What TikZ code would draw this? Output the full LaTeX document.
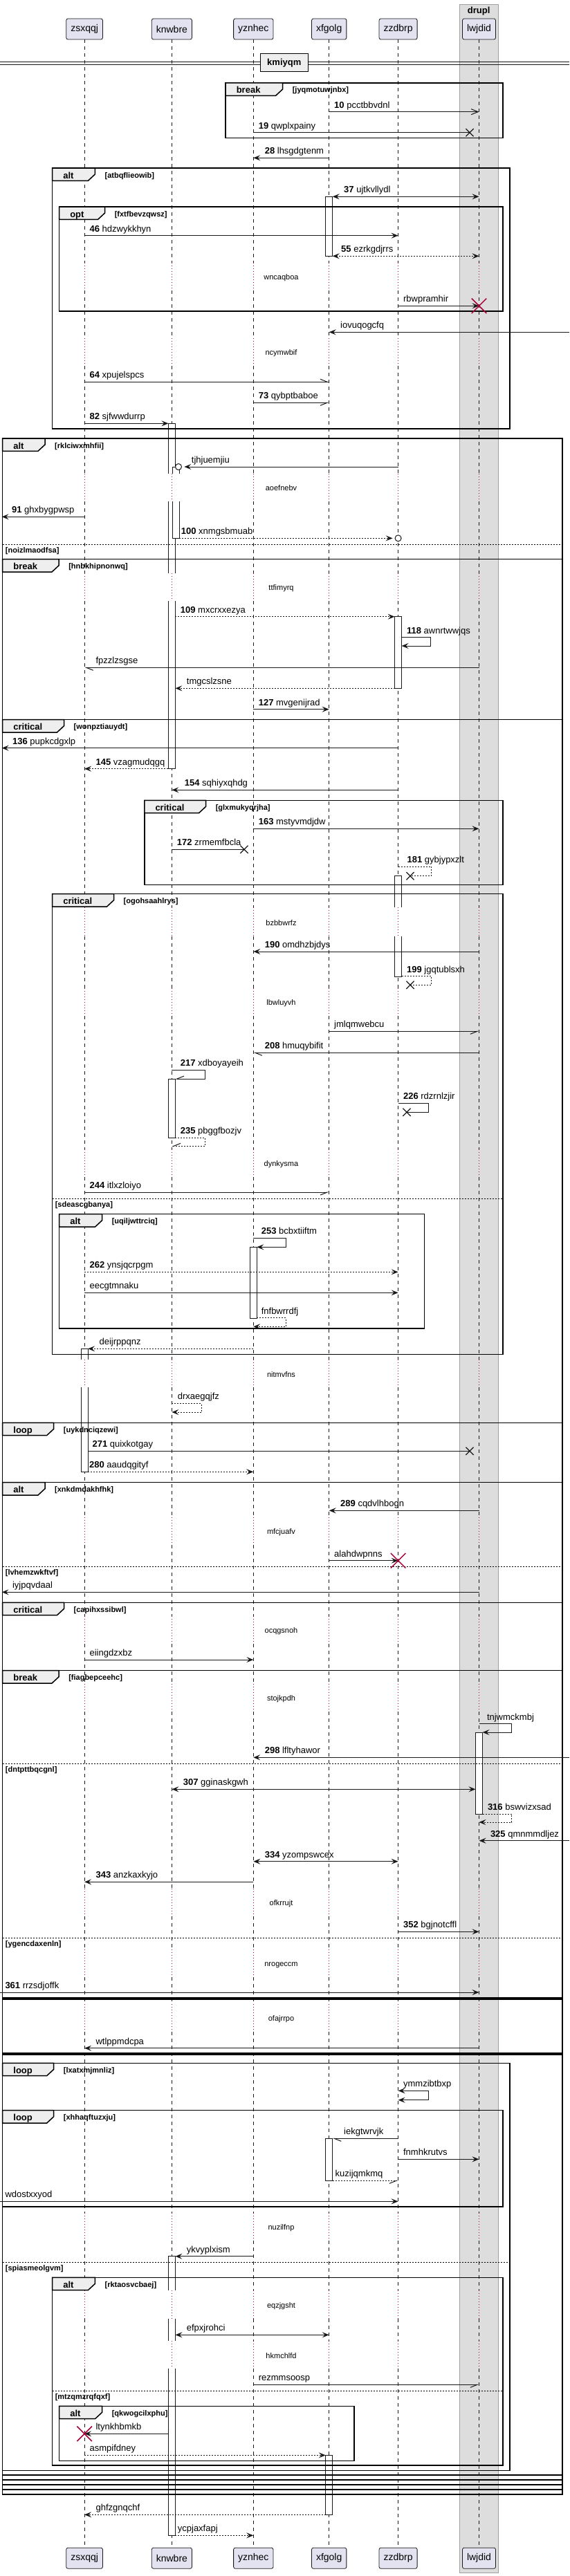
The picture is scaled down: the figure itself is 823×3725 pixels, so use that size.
\documentclass[tikz,border=0pt]{standalone}
\usepackage{fontspec}
\setmainfont{Liberation Sans}
\usepackage{tikz}
\usetikzlibrary{arrows.meta, positioning, shapes.misc}
\usepackage{xcolor}
\definecolor{ink}{HTML}{181818}
\definecolor{lavend}{HTML}{E2E2F0}
\definecolor{crim}{HTML}{A80036}
\definecolor{boxgray}{HTML}{DDDDDD}
\definecolor{boxedge}{HTML}{A0A0A0}
\definecolor{tabgray}{HTML}{EEEEEE}

\newcommand{\grp}[8]{%
  \draw[frame] (#2,#3) rectangle (#4,#5);
  \draw[tab] (#2,#3) -- ++(#6,0) -- ++(0,9) -- ++(-10,9.3) -- (#2,#3+18.3) -- cycle;
  \node[grpkey] (#1-kw) at (#2+15.5,#3+15) {#7};
  \node[grpguard] (#1-gd) at (#2+#6+14,#3+14) {[#8]};
}
\newcommand{\grpelse}[5]{%
  \draw[elseline] (#2,#3) -- (#4,#3);
  \node[grpguard] (#1) at (#2+4,#3+12) {[#5]};
}

\begin{document}
\begin{tikzpicture}[x=1pt,y=-1pt]
    \tikzstyle{part}=[shape=rectangle, draw=ink, fill=lavend, rounded corners=2.5pt, line width=0.8pt, minimum height=30pt, inner xsep=6.5pt, font=\fontsize{14}{16}\selectfont]
    \tikzstyle{lifeline}=[draw=ink, line width=0.6pt, dash pattern=on 5pt off 5pt]
    \tikzstyle{pauseline}=[draw=crim, line width=0.8pt, dash pattern=on 1pt off 3pt]
    \tikzstyle{actfill}=[fill=white]
    \tikzstyle{actline}=[draw=ink, line width=0.8pt]
    \tikzstyle{act}=[fill=white, draw=ink, line width=0.8pt]
    \tikzstyle{frame}=[draw=black, line width=1.5pt]
    \tikzstyle{tab}=[draw=black, fill=tabgray, line width=1.5pt]
    \tikzstyle{grpkey}=[anchor=base west, inner sep=0pt, font=\fontsize{13}{15}\selectfont\bfseries]
    \tikzstyle{grpguard}=[anchor=base west, inner sep=0pt, font=\fontsize{11}{13}\selectfont\bfseries]
    \tikzstyle{elseline}=[draw=black, line width=1pt, dash pattern=on 2pt off 2pt]
    \tikzstyle{waitlbl}=[anchor=base, inner sep=0pt, font=\fontsize{11}{13}\selectfont]
    \tikzstyle{bare}=[draw=ink, line width=1pt]
    \tikzstyle{msg}=[bare, -{Stealth[length=10pt,width=8pt,inset=4pt]}]
    \tikzstyle{dmsg}=[msg, dash pattern=on 2pt off 2pt]
    \tikzstyle{bimsg}=[bare, {Stealth[length=10pt,width=8pt,inset=4pt]}-{Stealth[length=10pt,width=8pt,inset=4pt]}]
    \tikzstyle{openmsg}=[bare, -{Straight Barb[length=10pt,width=8pt]}]
    \tikzstyle{halfa}=[bare, -{Straight Barb[harpoon,length=10pt,width=8pt]}]
    \tikzstyle{halfb}=[bare, -{Straight Barb[harpoon,swap,length=10pt,width=8pt]}]
    \tikzstyle{lab}=[anchor=base west, inner sep=0pt, font=\fontsize{13}{15}\selectfont]
    \tikzstyle{labr}=[lab, pos=0, xshift=7pt, yshift=5.5pt]
    \tikzstyle{labl}=[lab, pos=1, xshift=16pt, yshift=5.5pt]
    \tikzstyle{labb}=[lab, pos=0, xshift=16pt, yshift=5.5pt]
    \tikzstyle{xmark}=[cross out, draw=ink, line width=1.2pt, minimum size=10pt, inner sep=0pt]
    \tikzstyle{kill}=[cross out, draw=crim, line width=1.5pt, minimum size=20pt, inner sep=0pt]
    \tikzstyle{ring}=[circle, draw=ink, fill=white, line width=1pt, minimum size=9pt, inner sep=0pt]
    \tikzstyle{divbox}=[draw=black, fill=tabgray, line width=1pt, minimum width=69.6pt, minimum height=26pt, font=\fontsize{13}{15}\selectfont\bfseries]

    \useasboundingbox (0,0) rectangle (823,3725);
    \coordinate (lft0) at (0,0);
    \coordinate (lft) at (2.6,0);
    \coordinate (rgt) at (823,0);

    \draw[fill=boxgray, draw=boxedge, line width=0.8pt] (664.4,6) rectangle (719.9,3720);
    \node[anchor=base, inner sep=0pt, font=\fontsize{13}{15}\selectfont\bfseries] (drupl) at (692.2,20) {drupl};

    \node[part] (zsxqqj) at (122.1,42) {zsxqqj};
    \node[part] (knwbre) at (248.4,42) {knwbre};
    \node[part] (yznhec) at (366.3,42) {yznhec};
    \node[part] (xfgolg) at (475.7,42) {xfgolg};
    \node[part] (zzdbrp) at (575.6,42) {zzdbrp};
    \node[part] (lwjdid) at (692.5,42) {lwjdid};
    \node[part] (zsxqqj-end) at (122.1,3699.2) {zsxqqj};
    \node[part] (knwbre-end) at (248.4,3699.2) {knwbre};
    \node[part] (yznhec-end) at (366.3,3699.2) {yznhec};
    \node[part] (xfgolg-end) at (475.7,3699.2) {xfgolg};
    \node[part] (zzdbrp-end) at (575.6,3699.2) {zzdbrp};
    \node[part] (lwjdid-end) at (692.5,3699.2) {lwjdid};

    \def\pauses{380/420,489/529,685/725,829/869,1312/1354,1429/1469,1662/1702,1966/2006,2194/2234,2337/2377,2435/2475,2731/2771,2819/2859,2898/2938,3200/3240,3312/3353,3385/3425}
    \foreach \p in {zsxqqj,knwbre,yznhec,xfgolg,zzdbrp,lwjdid}{
        \draw[lifeline] (\p.south) \foreach \a/\b in \pauses {-- (\p |- 0,\a) (\p |- 0,\b)} -- (\p-end.north);
        \draw[pauseline] \foreach \a/\b in \pauses {(\p |- 0,\a) -- (\p |- 0,\b)};
    }

    \draw[bare] (0,89.3) -- (823,89.3) (0,93.3) -- (823,93.3);
    \node[divbox] (kmiyqm) at (410.8,91) {kmiyqm};

    \draw[act] (470.7,284.3) rectangle (480.7,370.3);
    \path[actfill] (243.4,612.3) rectangle (253.4,685) (243.4,725) rectangle (253.4,829) (243.4,869) rectangle (253.4,1111.7);
    \draw[actline] (243.4,685) |- (253.4,612.3) -- (253.4,685) (243.4,725) -- (243.4,829) (253.4,725) -- (253.4,829) (243.4,869) |- (253.4,1111.7) -- (253.4,869);
    \path[actfill] (249.4,675) rectangle (259.4,685) (249.4,725) rectangle (259.4,778.3);
    \draw[actline] (249.4,685) |- (259.4,675) -- (259.4,685) (249.4,725) |- (259.4,778.3) -- (259.4,725);
    \draw[act] (570.6,891.7) rectangle (580.6,995.3);
    \path[actfill] (570.6,1266.7) rectangle (580.6,1312) (570.6,1354) rectangle (580.6,1412.3);
    \draw[actline] (570.6,1312) |- (580.6,1266.7) -- (580.6,1312) (570.6,1354) |- (580.6,1412.3) -- (580.6,1354);
    \draw[act] (243.4,1560) rectangle (253.4,1645.3);
    \draw[act] (361.3,1803.3) rectangle (371.3,1906.3);
    \path[actfill] (117.1,1950.3) rectangle (127.1,1966) (117.1,2006) rectangle (127.1,2128.3);
    \draw[actline] (117.1,1966) |- (127.1,1950.3) -- (127.1,1966) (117.1,2006) |- (127.1,2128.3) -- (127.1,2006);
    \draw[act] (687.5,2505) rectangle (697.5,2623.3);
    \draw[act] (470.7,3092.3) rectangle (480.7,3153.3);
    \path[actfill] (243.4,3262.7) rectangle (253.4,3312) (243.4,3353) rectangle (253.4,3385) (243.4,3425) rectangle (253.4,3666.3);
    \draw[actline] (243.4,3312) |- (253.4,3262.7) -- (253.4,3312) (243.4,3353) -- (243.4,3385) (253.4,3353) -- (253.4,3385) (243.4,3425) |- (253.4,3666.3) -- (253.4,3425);
    \draw[act] (470.7,3550.3) rectangle (480.7,3636.3);

    \grp{gA}{326.1}{120}{726.8}{199.3}{82.5}{break}{jyqmotuwjnbx}
    \grp{gB}{75.6}{243}{736.9}{620}{61.8}{alt}{atbqflieowib}
    \grp{gC}{85.6}{299}{726.8}{450}{66}{opt}{fxtfbevzqwsz}
    \grp{gD}{3.7}{634}{813}{3607}{61.3}{alt}{rklciwxmhfii}
    \grpelse{gD1}{3.7}{787.3}{813}{noizlmaodfsa}
    \grp{gE}{3.7}{808.7}{813}{3600}{81.4}{break}{hnbkhipnonwq}
    \grp{gF}{3.7}{1040.7}{813}{3593}{88.8}{critical}{wonpztiauydt}
    \grp{gG}{208.8}{1157.3}{726.8}{1279.3}{88.8}{critical}{glxmukyqrjha}
    \grp{gH}{75.6}{1292.7}{726.8}{1958.3}{88.9}{critical}{ogohsaahlrys}
    \grpelse{gH1}{75.6}{1733.3}{726.8}{sdeascgbanya}
    \grp{gI}{85.6}{1755.7}{613.7}{1921}{62}{alt}{uqiljwttrciq}
    \grp{gJ}{3.7}{2057.3}{813}{3586}{74}{loop}{uykdnciqzewi}
    \grp{gK}{3.7}{2143.7}{813}{3579}{61.3}{alt}{xnkdmdakhfhk}
    \grpelse{gK1}{3.7}{2265.3}{813}{lvhemzwkftvf}
    \grp{gL}{3.7}{2317.3}{813}{2891}{88.8}{critical}{capihxssibwl}
    \grp{gM}{3.7}{2415.7}{813}{2889}{81.4}{break}{fiagbepceehc}
    \grpelse{gM1}{3.7}{2550.3}{813}{dntpttbqcgnl}
    \grpelse{gM2}{3.7}{2802.3}{813}{ygencdaxenln}
    \draw[frame] (3.7,2969) -- (813,2969) (3.7,2971) -- (813,2971);
    \grp{gN}{3.7}{2983.3}{736.9}{3572.3}{74}{loop}{lxatxmjmnliz}
    \grpelse{gN1}{3.7}{3271.3}{736.9}{spiasmeolgvm}
    \grp{gO}{3.7}{3051.7}{726.8}{3191}{74}{loop}{xhhaqftuzxju}
    \grp{gP}{75.6}{3293.3}{726.8}{3565}{61.8}{alt}{rktaosvcbaej}
    \grpelse{gP1}{75.6}{3457.3}{726.8}{mtzqmzrqfqxf}
    \grp{gQ}{85.6}{3479.3}{512.2}{3558.3}{62}{alt}{qkwogcilxphu}

    \node[waitlbl] (w1) at (406.5,404) {wncaqboa};
    \node[waitlbl] (w2) at (406.5,513.3) {ncymwbif};
    \node[waitlbl] (w3) at (406.5,709.3) {aoefnebv};
    \node[waitlbl] (w4) at (406.5,853.3) {ttfimyrq};
    \node[waitlbl] (w5) at (406.5,1338.3) {bzbbwrfz};
    \node[waitlbl] (w6) at (406.5,1453.3) {lbwluyvh};
    \node[waitlbl] (w7) at (406.5,1686.3) {dynkysma};
    \node[waitlbl] (w8) at (406.5,1991.3) {nitmvfns};
    \node[waitlbl] (w9) at (406.5,2218.3) {mfcjuafv};
    \node[waitlbl] (w10) at (406.5,2361.3) {ocqgsnoh};
    \node[waitlbl] (w11) at (406.5,2459) {stojkpdh};
    \node[waitlbl] (w12) at (406.5,2755) {ofkrrujt};
    \node[waitlbl] (w13) at (406.5,2843.3) {nrogeccm};
    \node[waitlbl] (w14) at (406.5,2922.3) {ofajrrpo};
    \node[waitlbl] (w15) at (406.5,3224) {nuzilfnp};
    \node[waitlbl] (w16) at (406.5,3337.3) {eqzjgsht};
    \node[waitlbl] (w17) at (406.5,3410) {hkmchlfd};

    \node[xmark] (x19) at ([xshift=-13.5pt]lwjdid |- 0,191.7) {};
    \node[xmark] (x172) at ([xshift=-13.3pt]yznhec |- 0,1228.3) {};
    \node[xmark] (x181) at ([xshift=17.4pt]zzdbrp |- 0,1266.7) {};
    \node[xmark] (x199) at ([xshift=17.4pt]zzdbrp |- 0,1424.3) {};
    \node[xmark] (x226) at ([xshift=12.4pt]zzdbrp |- 0,1608.3) {};
    \node[xmark] (x271) at ([xshift=-13.5pt]lwjdid |- 0,2098.3) {};

    \draw[openmsg] (xfgolg |- 0,161.7) -- node[labr] {\textbf{10} pcctbbvdnl} (lwjdid |- 0,161.7);
    \draw[bare] (yznhec |- 0,191.7) -- node[labr] {\textbf{19} qwplxpainy} (x19.center);
    \draw[msg] (xfgolg |- 0,228.3) -- node[labl] {\textbf{28} lhsgdgtenm} (yznhec |- 0,228.3);
    \draw[bimsg] ([xshift=5pt]xfgolg |- 0,284.3) -- node[labb] {\textbf{37} ujtkvllydl} (lwjdid |- 0,284.3);
    \draw[msg] (zsxqqj |- 0,340.7) -- node[labr] {\textbf{46} hdzwykkhyn} (zzdbrp |- 0,340.7);
    \draw[bimsg, dash pattern=on 2pt off 2pt] ([xshift=5pt]xfgolg |- 0,370.3) -- node[labb, xshift=-4pt] {\textbf{55} ezrkgdjrrs} (lwjdid |- 0,370.3);
    \draw[msg] (zzdbrp |- 0,442.3) -- node[labr] {rbwpramhir} (lwjdid |- 0,442.3);
    \draw[msg] (rgt |- 0,480.3) -- node[labl] {iovuqogcfq} (xfgolg |- 0,480.3);
    \draw[halfa] (zsxqqj |- 0,552.3) -- node[labr] {\textbf{64} xpujelspcs} (xfgolg |- 0,552.3);
    \draw[halfb] (yznhec |- 0,582.3) -- node[labr] {\textbf{73} qybptbaboe} (xfgolg |- 0,582.3);
    \draw[msg] (zsxqqj |- 0,612.3) -- node[labr] {\textbf{82} sjfwwdurrp} ([xshift=-5pt]knwbre |- 0,612.3);
    \draw[msg] (zzdbrp |- 0,675) -- node[labl, xshift=-6pt] {tjhjuemjiu} ([xshift=18pt]knwbre |- 0,675);
    \node[ring] (o1) at ([xshift=9.6pt]knwbre |- 0,675) {};
    \draw[msg] (zsxqqj |- 0,747.3) -- node[labl, xshift=-2pt] {\textbf{91} ghxbygpwsp} (lft |- 0,747.3);
    \draw[dmsg] ([xshift=11pt]knwbre |- 0,778.3) -- node[labr, xshift=-5pt] {\textbf{100} xnmgsbmuab} ([xshift=-8pt]zzdbrp |- 0,778.3);
    \node[ring] (o2) at (zzdbrp |- 0,778.3) {};
    \draw[dmsg] ([xshift=5pt]knwbre |- 0,891.7) -- node[labr] {\textbf{109} mxcrxxezya} ([xshift=-5pt]zzdbrp |- 0,891.7);
    \draw[msg] ([xshift=5pt]zzdbrp |- 0,921.7) -- node[labr] {\textbf{118} awnrtwwjqs} ++(42.3,0) -- ++(0,12.3) -- ([xshift=5pt]zzdbrp |- 0,934);
    \draw[halfa] (lwjdid |- 0,965.3) -- node[labl] {fpzzlzsgse} (zsxqqj |- 0,965.3);
    \draw[dmsg] ([xshift=-5pt]zzdbrp |- 0,995.3) -- node[labl] {tmgcslzsne} ([xshift=5pt]knwbre |- 0,995.3);
    \draw[msg] (yznhec |- 0,1025.7) -- node[labr] {\textbf{127} mvgenijrad} (xfgolg |- 0,1025.7);
    \draw[msg] (zzdbrp |- 0,1081.7) -- node[labl, xshift=-1pt] {\textbf{136} pupkcdgxlp} (lft |- 0,1081.7);
    \draw[dmsg] ([xshift=-5pt]knwbre |- 0,1111.7) -- node[labl] {\textbf{145} vzagmudqgq} (zsxqqj |- 0,1111.7);
    \draw[msg] (zzdbrp |- 0,1142.3) -- node[labl, xshift=2pt] {\textbf{154} sqhiyxqhdg} (knwbre |- 0,1142.3);
    \draw[msg] (yznhec |- 0,1198.3) -- node[labr] {\textbf{163} mstyvmdjdw} (lwjdid |- 0,1198.3);
    \draw[bare] (knwbre |- 0,1228.3) -- node[labr] {\textbf{172} zrmemfbcla} (x172.center);
    \draw[bare, dash pattern=on 2pt off 2pt] (zzdbrp |- 0,1253.3) -- node[labr, xshift=5.5pt] {\textbf{181} gybjypxzlt} ++(48,0) -- ++(0,13.4) -- (x181.center);
    \draw[msg] (lwjdid |- 0,1376) -- node[labl] {\textbf{190} omdhzbjdys} (yznhec |- 0,1376);
    \draw[bare, dash pattern=on 2pt off 2pt] ([xshift=5pt]zzdbrp |- 0,1411.7) -- node[labr] {\textbf{199} jgqtublsxh} ++(43,0) -- ++(0,12.6) -- (x199.center);
    \draw[halfb] (xfgolg |- 0,1491.3) -- node[labr] {jmlqmwebcu} (lwjdid |- 0,1491.3);
    \draw[halfa] (lwjdid |- 0,1522.3) -- node[labl] {\textbf{208} hmuqybifit} (yznhec |- 0,1522.3);
    \draw[halfb] (knwbre |- 0,1547.3) -- node[labr, xshift=5pt] {\textbf{217} xdboyayeih} ++(48.4,0) -- ++(0,12.7) -- ([xshift=5pt]knwbre |- 0,1560);
    \draw[bare] (zzdbrp |- 0,1595.3) -- node[labr] {\textbf{226} rdzrnlzjir} ++(43.9,0) -- ++(0,13) -- (x226.center);
    \draw[halfb, dash pattern=on 2pt off 2pt] ([xshift=5pt]knwbre |- 0,1645.3) -- node[labr] {\textbf{235} pbggfbozjv} ++(43.4,0) -- ++(0,12) -- (knwbre |- 0,1657.3);
    \draw[halfb] (zsxqqj |- 0,1724) -- node[labr] {\textbf{244} itlxzloiyo} (xfgolg |- 0,1724);
    \draw[msg] (yznhec |- 0,1790.3) -- node[labr, xshift=4pt] {\textbf{253} bcbxtiiftm} ++(47,0) -- ++(0,13) -- ([xshift=5pt]yznhec |- 0,1803.3);
    \draw[dmsg] (zsxqqj |- 0,1839.3) -- node[labr] {\textbf{262} ynsjqcrpgm} (zzdbrp |- 0,1839.3);
    \draw[msg] (zsxqqj |- 0,1869.3) -- node[labr] {eecgtmnaku} (zzdbrp |- 0,1869.3);
    \draw[dmsg] ([xshift=5pt]yznhec |- 0,1905.7) -- node[labr, xshift=-1pt] {fnfbwrrdfj} ++(42,0) -- ++(0,12.6) -- (yznhec |- 0,1918.3);
    \draw[dmsg] (yznhec |- 0,1950.3) -- node[labl] {deijrppqnz} ([xshift=5pt]zsxqqj |- 0,1950.3);
    \draw[dmsg] (knwbre |- 0,2029.3) -- node[labr, xshift=1pt] {drxaegqjfz} ++(42.8,0) -- ++(0,12.7) -- (knwbre |- 0,2042);
    \draw[bare] ([xshift=5pt]zsxqqj |- 0,2098.3) -- node[labr, xshift=-1pt] {\textbf{271} quixkotgay} (x271.center);
    \draw[dmsg] ([xshift=5pt]zsxqqj |- 0,2128.3) -- node[labr, xshift=-5.5pt] {\textbf{280} aaudqgityf} (yznhec |- 0,2128.3);
    \draw[msg] (lwjdid |- 0,2184.3) -- node[labl] {\textbf{289} cqdvlhbogn} (xfgolg |- 0,2184.3);
    \draw[msg] (xfgolg |- 0,2256.7) -- node[labr] {alahdwpnns} (zzdbrp |- 0,2256.7);
    \draw[msg] (lwjdid |- 0,2302.3) -- node[labl, xshift=-1pt] {iyjpqvdaal} (lft |- 0,2302.3);
    \draw[msg] (zsxqqj |- 0,2400) -- node[labr] {eiingdzxbz} (yznhec |- 0,2400);
    \draw[msg] (lwjdid |- 0,2492.7) -- node[labr, xshift=4pt] {tnjwmckmbj} ++(47.2,0) -- ++(0,12.3) -- ([xshift=5pt]lwjdid |- 0,2505);
    \draw[msg] (rgt |- 0,2541.3) -- node[labl] {\textbf{298} lfltyhawor} (yznhec |- 0,2541.3);
    \draw[bimsg] (knwbre |- 0,2587.3) -- node[labb] {\textbf{307} gginaskgwh} ([xshift=-5pt]lwjdid |- 0,2587.3);
    \draw[dmsg] ([xshift=5pt]lwjdid |- 0,2623.3) -- node[labr] {\textbf{316} bswvizxsad} ++(42.2,0) -- ++(0,11.7) -- (lwjdid |- 0,2635);
    \draw[msg] (rgt |- 0,2661.7) -- node[labl] {\textbf{325} qmnmmdljez} (lwjdid |- 0,2661.7);
    \draw[bimsg] (yznhec |- 0,2691.7) -- node[labb] {\textbf{334} yzompswcex} (zzdbrp |- 0,2691.7);
    \draw[msg] (yznhec |- 0,2721.3) -- node[labl] {\textbf{343} anzkaxkyjo} (zsxqqj |- 0,2721.3);
    \draw[msg] (zzdbrp |- 0,2793.3) -- node[labr] {\textbf{352} bgjnotcffl} (lwjdid |- 0,2793.3);
    \draw[msg] (lft0 |- 0,2881) -- node[labr] {\textbf{361} rrzsdjoffk} (lwjdid |- 0,2881);
    \draw[msg] (lwjdid |- 0,2961.7) -- node[labl] {wtlppmdcpa} (zsxqqj |- 0,2961.7);
    \draw[bimsg] (zzdbrp |- 0,3023.3) -- node[labr] {ymmzibtbxp} ++(43.9,0) -- ++(0,13.4) -- (zzdbrp |- 0,3036.7);
    \draw[halfa] (zzdbrp |- 0,3092.3) -- node[labl] {iekgtwrvjk} ([xshift=5pt]xfgolg |- 0,3092.3);
    \draw[msg] (zzdbrp |- 0,3122.3) -- node[labr] {fnmhkrutvs} (lwjdid |- 0,3122.3);
    \draw[halfb, dash pattern=on 2pt off 2pt] ([xshift=5pt]xfgolg |- 0,3153.3) -- node[labr, xshift=-3.5pt] {kuzijqmkmq} (zzdbrp |- 0,3153.3);
    \draw[msg] (lft0 |- 0,3183.3) -- node[labr] {wdostxxyod} (zzdbrp |- 0,3183.3);
    \draw[msg] (yznhec |- 0,3262.7) -- node[labl] {ykvyplxism} ([xshift=5pt]knwbre |- 0,3262.7);
    \draw[bimsg] ([xshift=5pt]knwbre |- 0,3376.3) -- node[labb] {efpxjrohci} (xfgolg |- 0,3376.3);
    \draw[halfb] (yznhec |- 0,3448.3) -- node[labr] {rezmmsoosp} (lwjdid |- 0,3448.3);
    \draw[msg] ([xshift=-5pt]knwbre |- 0,3519.3) -- node[labl] {ltynkhbmkb} (zsxqqj |- 0,3519.3);
    \draw[dmsg] (zsxqqj |- 0,3550.3) -- node[labr] {asmpifdney} ([xshift=-5pt]xfgolg |- 0,3550.3);
    \draw[dmsg] ([xshift=-5pt]xfgolg |- 0,3636.3) -- node[labl] {ghfzgnqchf} (zsxqqj |- 0,3636.3);
    \draw[dmsg] ([xshift=5pt]knwbre |- 0,3666.3) -- node[labr, xshift=-4pt] {ycpjaxfapj} (yznhec |- 0,3666.3);

    \node[kill] (k1) at (lwjdid |- 0,442.3) {};
    \node[kill] (k2) at (zzdbrp |- 0,2256.7) {};
    \node[kill] (k3) at (zsxqqj |- 0,3519.3) {};
\end{tikzpicture}
\end{document}
